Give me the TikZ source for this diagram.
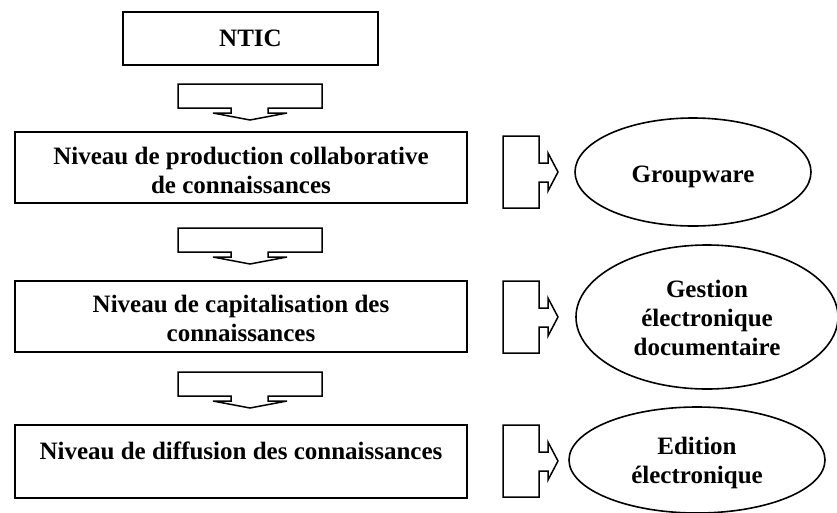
\documentclass[tikz,border=0pt]{standalone}
\usepackage{fontspec}
\setmainfont{Liberation Serif}
\usetikzlibrary{shapes.geometric}
\tikzset{
  lbl/.style={font=\fontsize{25}{29}\selectfont\bfseries, align=center, inner sep=0pt},
  boxn/.style={draw, line width=1.7pt, rectangle, inner sep=0pt},
  ell/.style={draw, line width=1.6pt, ellipse, inner sep=0pt},
  blockarrow/.style={draw, line width=1.5pt, line join=miter}
}
\newcommand{\downarr}[1]{%
  \draw[blockarrow] (178,#1) -- (322,#1) -- (322,#1+24) -- (268,#1+24) -- (268,#1+29) -- (287,#1+29) -- (250,#1+36) -- (213,#1+29) -- (231,#1+29) -- (231,#1+24) -- (178,#1+24) -- cycle;}
\newcommand{\rightarr}[1]{%
  \draw[blockarrow] (503,#1) -- (539,#1) -- (539,#1+27) -- (548,#1+27) -- (548,#1+17) -- (558,#1+36) -- (548,#1+55) -- (548,#1+46) -- (539,#1+46) -- (539,#1+72) -- (503,#1+72) -- cycle;}
\begin{document}
\begin{tikzpicture}[x=1pt,y=-1pt]
\useasboundingbox (0,0) rectangle (837,512);
% main boxes
\node[boxn, minimum width=255pt, minimum height=53pt] (ntic) at (250.5,38.5) {};
\node[lbl] (nticT) at (250.5,38.5) {NTIC};
\node[boxn, minimum width=452pt, minimum height=71pt] (b2) at (241,167.5) {};
\node[lbl] (b2T) at (241,170.5) {Niveau de production collaborative\\de connaissances};
\node[boxn, minimum width=452pt, minimum height=71pt] (b3) at (241,316.5) {};
\node[lbl] (b3T) at (241,318) {Niveau de capitalisation des\\connaissances};
\node[boxn, minimum width=452pt, minimum height=73pt] (b4) at (241,461.5) {};
\node[lbl] (b4T) at (241,451) {Niveau de diffusion des connaissances};
% ellipses
\node[ell, minimum width=236pt, minimum height=108pt] (e1) at (693,172) {};
\node[lbl] (e1T) at (693,177) {Groupware};
\node[ell, minimum width=262pt, minimum height=144pt] (e2) at (707,317) {};
\node[lbl] (e2T) at (707,318) {Gestion\\électronique\\documentaire};
\node[ell, minimum width=256pt, minimum height=106pt] (e3) at (697,460) {};
\node[lbl] (e3T) at (697,463) {Edition\\électronique};
% block arrows
\downarr{84}
\downarr{228}
\downarr{372}
\rightarr{136}
\rightarr{281}
\rightarr{425}
\end{tikzpicture}
\end{document}
